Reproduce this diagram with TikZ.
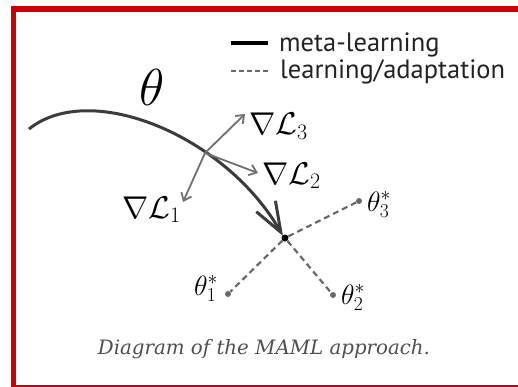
\RequirePackage{fix-cm}
\documentclass[tikz,border=0pt]{standalone}
\usepackage{fontspec}
\setsansfont{PT Sans}
\newfontfamily\capfont{DejaVu Serif}
\usetikzlibrary{arrows.meta}
\definecolor{framered}{RGB}{208,0,0}
\definecolor{metagray}{RGB}{60,60,60}
\definecolor{gradgray}{RGB}{112,112,112}
\definecolor{adaptgray}{RGB}{105,105,105}
\definecolor{capgray}{RGB}{80,80,80}
\definecolor{leggray}{RGB}{35,35,35}
\begin{document}
\begin{tikzpicture}[x=1pt,y=-1pt,
  meta/.style={line width=3pt, draw=metagray, -{Straight Barb[length=30pt,width=22pt]}},
  grad/.style={line width=1.8pt, draw=gradgray, -{Straight Barb[length=7pt,width=11pt]}},
  adapt/.style={line width=2.2pt, draw=adaptgray, dash pattern=on 6pt off 4pt},
  lbl/.style={inner sep=0pt, anchor=base west},
  gradlbl/.style={lbl, font=\fontsize{31.5}{36}\selectfont},
  starlbl/.style={lbl, font=\fontsize{28}{32}\selectfont},
  dotnode/.style={circle, fill=adaptgray, inner sep=0pt, minimum size=6pt},
  legtext/.style={inner sep=0pt, anchor=base west, font=\sffamily\fontsize{26.5}{28}\selectfont, text=leggray},
]
\useasboundingbox (0,0) rectangle (518,387);
\fill[white] (0,0) rectangle (518,387);
% red frame
\fill[framered] (11,6) rectangle (16,387);
\fill[framered] (11,6) rectangle (518,12);
\fill[framered] (11,385) rectangle (518,387);

% legend
\coordinate (ls1) at (231,43);
\coordinate (le1) at (268,43);
\coordinate (ls2) at (231,71);
\coordinate (le2) at (268,71);
\draw[line width=4pt, black] (ls1) -- (le1);
\draw[line width=1.6pt, adaptgray, dash pattern=on 5pt off 3pt] (ls2) -- (le2);
\node[legtext] (lmeta) at (279,52) {meta-learning};
\node[legtext] (ladapt) at (280,79) {learning/adaptation};

% main curve
\coordinate (start) at (29,129);
\node[circle, fill=black, inner sep=0pt, minimum size=7pt] (center) at (285,238) {};
\coordinate (tip) at (283,236);
\draw[meta] (start) .. controls (90,80) and (225,135) .. (tip);
\node[lbl, font=\fontsize{52}{60}\selectfont] (theta) at (139,106) {$\theta$};

% gradient arrows
\coordinate (o) at (205,153);
\coordinate (g3) at (245,114);
\coordinate (g2) at (258,173);
\coordinate (g1) at (183,202);
\draw[grad] (o) -- (g3);
\draw[grad] (o) -- (g2);
\draw[grad] (o) -- (g1);
\node[gradlbl] (L3) at (249,135) {$\nabla\mathcal{L}_3$};
\node[gradlbl] (L2) at (262,184) {$\nabla\mathcal{L}_2$};
\node[gradlbl] (L1) at (122,218) {$\nabla\mathcal{L}_1$};

% adaptation
\node[dotnode] (d1) at (228,294) {};
\node[dotnode] (d2) at (333,295) {};
\node[dotnode] (d3) at (359,201) {};
\draw[adapt] (center) -- (d1);
\draw[adapt] (center) -- (d2);
\draw[adapt] (center) -- (d3);
\node[starlbl] (t1) at (194,295) {$\theta_1^*$};
\node[starlbl] (t2) at (341,304) {$\theta_2^*$};
\node[starlbl] (t3) at (367,211) {$\theta_3^*$};

% caption
\node[inner sep=0pt, anchor=base, font=\capfont\itshape\fontsize{19.8}{22}\selectfont, text=capgray] (cap) at (264,354) {Diagram of the MAML approach.};
\end{tikzpicture}
\end{document}
